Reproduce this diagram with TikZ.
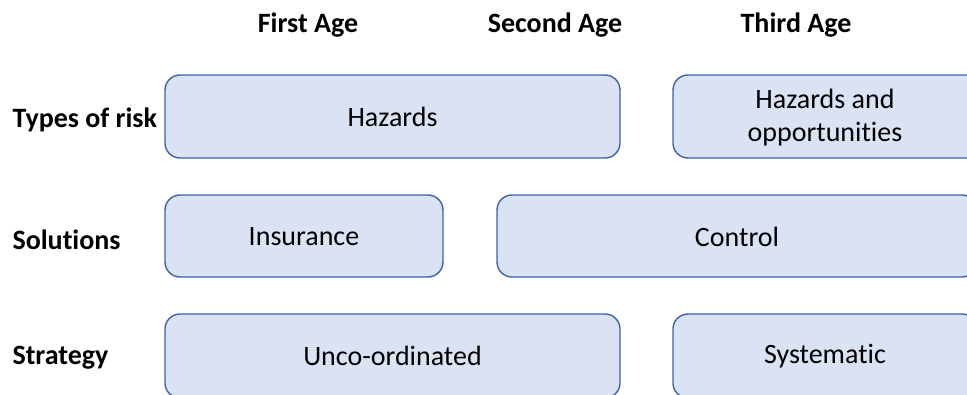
\documentclass[tikz,border=0pt]{standalone}
\usepackage{fontspec}
\setmainfont{Carlito}[Ligatures=NoCommon]
\definecolor{boxfill}{HTML}{DAE3F3}
\definecolor{boxline}{HTML}{3F62A0}
\begin{document}
\begin{tikzpicture}[x=1pt,y=-1pt,
  rbox/.style={draw=boxline,fill=boxfill,line width=1.4pt,rounded corners=15pt},
  boxtext/.style={font=\fontsize{28}{33}\selectfont,align=center,text=black},
  head/.style={font=\fontsize{28}{33}\selectfont\bfseries,text=black},
  rowlab/.style={font=\fontsize{28}{33}\selectfont\bfseries,text=black,anchor=west}]
\useasboundingbox (0,0) rectangle (967,394);
\clip (0,0) rectangle (967,394);
% boxes
\draw[rbox] (165,75) rectangle (620,158);
\node[boxtext] (hazards) at (392.5,117) {Hazards};
\draw[rbox] (673,75) rectangle (985,158);
\node[boxtext] (hazopp) at (825,118) {Hazards and\\opportunities};
\draw[rbox] (165,195) rectangle (443,277);
\node[boxtext] (insurance) at (304,237) {Insurance};
\draw[rbox] (497,195) rectangle (977,277);
\node[boxtext] (control) at (737,237) {Control};
\draw[rbox] (165,314) rectangle (620,398);
\node[boxtext] (unco) at (392.5,356) {Unco-ordinated};
\draw[rbox] (673,314) rectangle (977,398);
\node[boxtext] (systematic) at (825,356) {Systematic};
% headers
\node[head] (first) at (308,25) {First Age};
\node[head] (second) at (555,25) {Second Age};
\node[head] (third) at (796,25) {Third Age};
% row labels
\node[rowlab] (types) at (9,120) {Types of risk};
\node[rowlab] (solutions) at (9,240) {Solutions};
\node[rowlab] (strategy) at (9,358) {Strategy};
\end{tikzpicture}
\end{document}
